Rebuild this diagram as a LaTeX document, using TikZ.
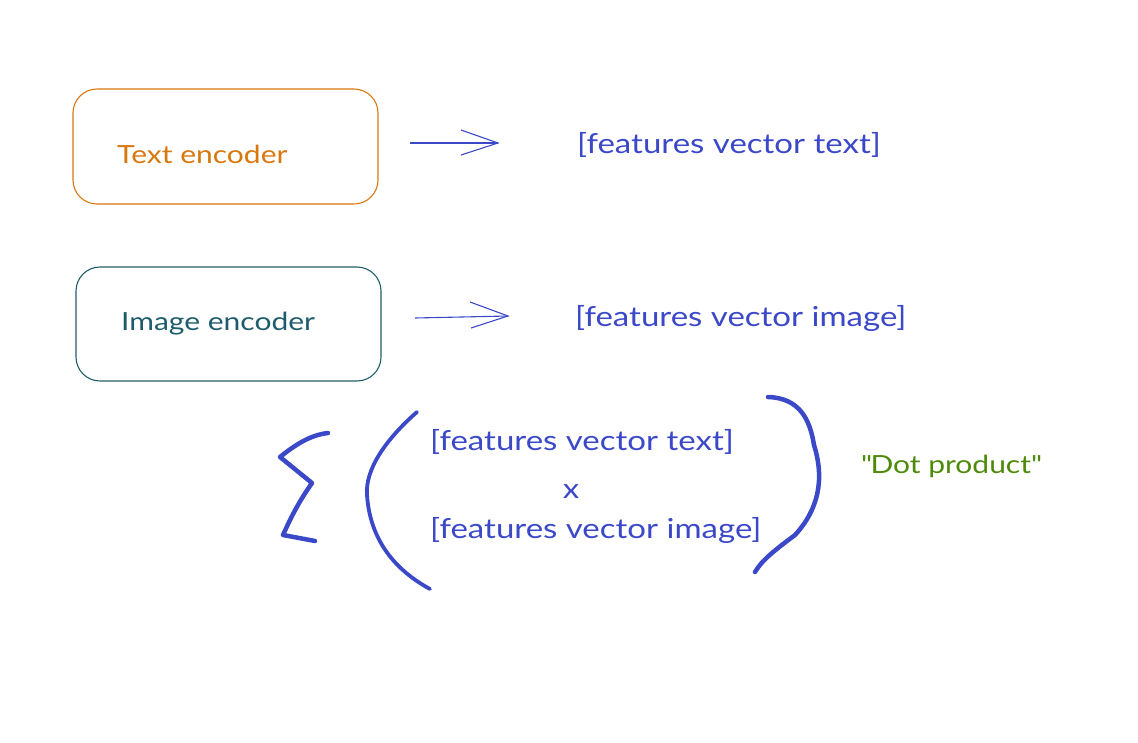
\documentclass[tikz,border=0pt]{standalone}
\usepackage{fontspec}
\setmainfont{Lato}[FakeStretch=1.2]
\definecolor{orng}{HTML}{D9770F}
\definecolor{teal2}{HTML}{1E5C6B}
\definecolor{blu}{HTML}{3B48C8}
\definecolor{grn}{HTML}{4E8A0A}
\begin{document}
\begin{tikzpicture}[x=1pt,y=-1pt,
  encbox/.style={draw, line width=1.1pt, rounded corners=24pt, inner sep=0pt},
  lbl/.style={font=\fontsize{27.5}{30}\selectfont, inner sep=0pt},
  enclbl/.style={font=\fontsize{25}{28}\selectfont, inner sep=0pt},
  arr/.style={draw=blu, line width=1.1pt},
  bigstroke/.style={draw=blu, line width=4.5pt, line cap=round, line join=round}]
\useasboundingbox (0,0) rectangle (1138,742);
% boxes
\node[encbox, draw=orng, minimum width=305pt, minimum height=115pt] (tbox) at (225.5,146.5) {};
\node[encbox, draw=teal2, minimum width=305pt, minimum height=114pt] (ibox) at (228.5,324) {};
\node[enclbl, text=orng, anchor=west] (tlab) at (117,154) {Text encoder};
\node[enclbl, text=teal2, anchor=west] (ilab) at (121,324) {Image encoder};
% arrows
\coordinate (a1s) at (410,143);
\coordinate (a1e) at (498,143);
\coordinate (a2s) at (415,318);
\coordinate (a2e) at (508,316);
\draw[arr] (a1s) -- (a1e);
\draw[arr] (461,130) -- (a1e) -- (461,155);
\draw[arr] (a2s) -- (a2e);
\draw[arr] (470,302) -- (a2e) -- (471,328);
% feature texts
\node[lbl, text=blu, anchor=west] (ft) at (577,145) {[features vector text]};
\node[lbl, text=blu, anchor=west] (fi) at (575,318) {[features vector image]};
\node[lbl, text=blu, anchor=west] (ft2) at (430,442) {[features vector text]};
\node[lbl, text=blu] (xx) at (571,492) {x};
\node[lbl, text=blu, anchor=west] (fi2) at (430,530) {[features vector image]};
\node[enclbl, text=grn, anchor=west] (dot) at (861,466) {\textquotedbl Dot product\textquotedbl};
% sigma
\draw[bigstroke] (328,433) .. controls (310,435) and (295,445) .. (280,457) -- (312,483) .. controls (300,500) and (292,515) .. (283,535) -- (315,541);
% parens
\draw[bigstroke, line width=3.8pt] (417,412) .. controls (385,440) and (365,470) .. (367,495) .. controls (370,540) and (395,570) .. (430,589);
\draw[bigstroke] (768,397) .. controls (800,398) and (810,420) .. (814,445) .. controls (825,480) and (818,510) .. (795,535) .. controls (775,550) and (762,560) .. (755,572);
\end{tikzpicture}
\end{document}
